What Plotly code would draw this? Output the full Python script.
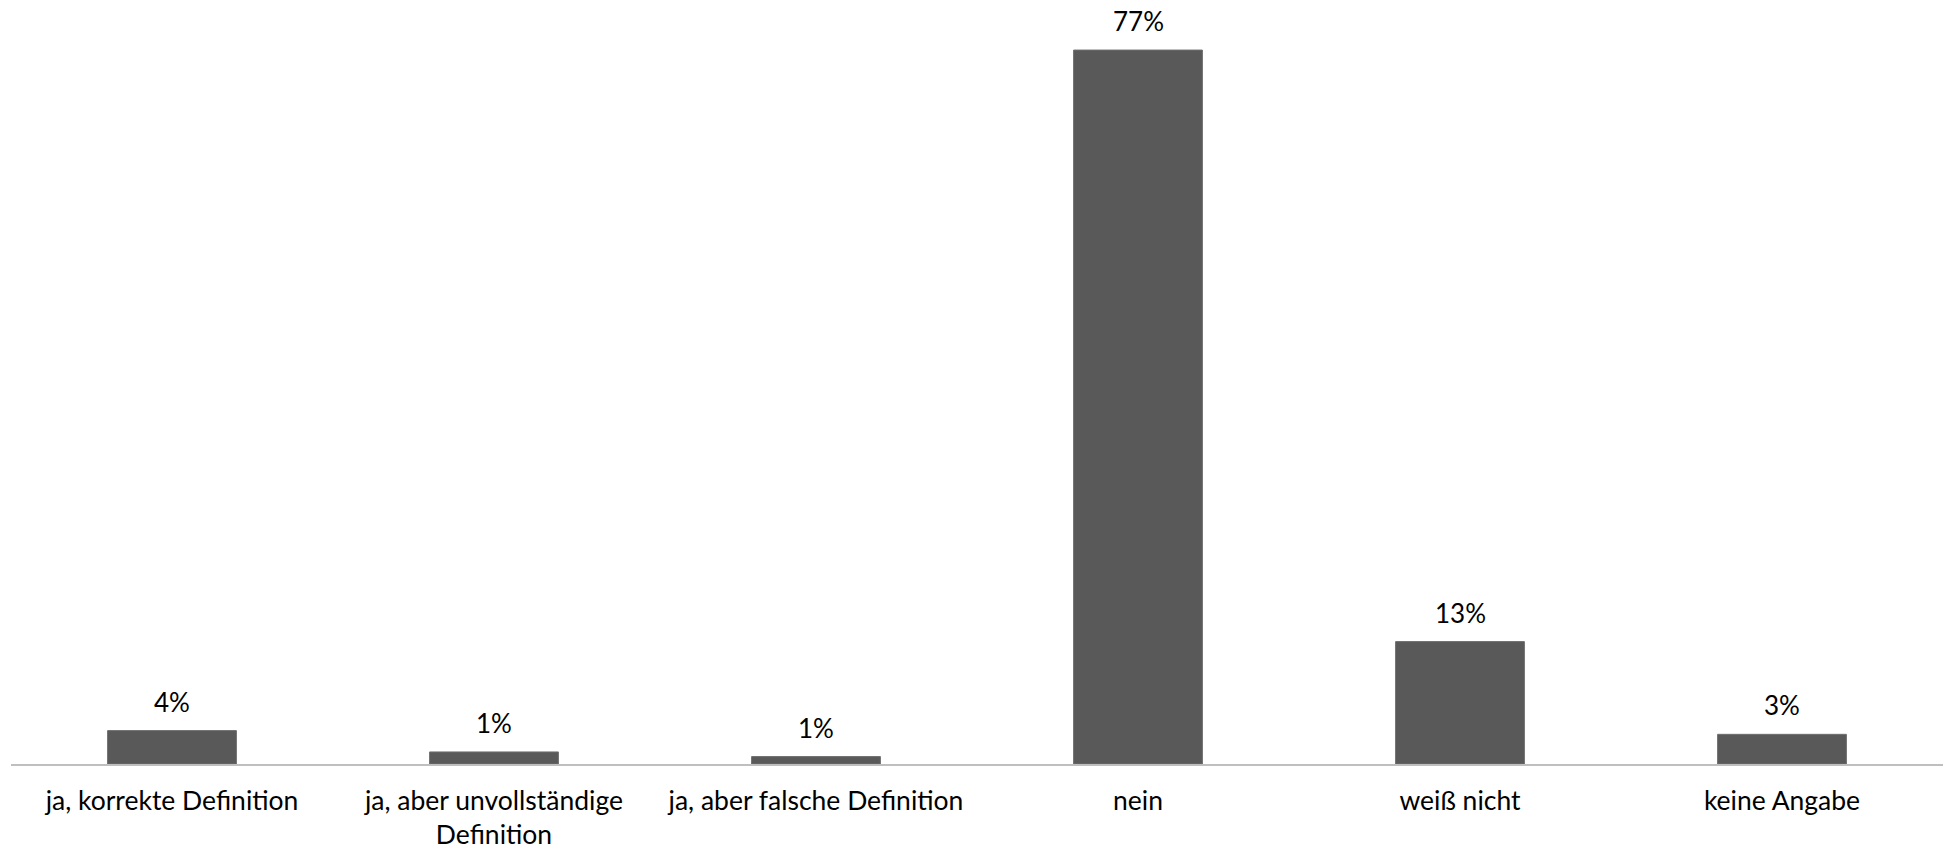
import plotly.graph_objects as go

categories = [
    "ja, korrekte Definition",
    "ja, aber unvollständige<br>Definition",
    "ja, aber falsche Definition",
    "nein",
    "weiß nicht",
    "keine Angabe",
]
values = [3.6, 1.3, 0.8, 77.0, 13.2, 3.2]
labels = ["4%", "1%", "1%", "77%", "13%", "3%"]

FONT = "Lato, Carlito, Calibri, sans-serif"

fig = go.Figure()
fig.add_trace(go.Bar(
    x=categories,
    y=values,
    marker=dict(color="#595959", line=dict(color="#6e6e6e", width=1)),
    hoverinfo="skip",
))

for c, v, t in zip(categories, values, labels):
    fig.add_annotation(
        x=c, y=v, text=t, showarrow=False,
        yanchor="bottom", yshift=12, borderpad=0,
        font=dict(family=FONT, size=26, color="#000000"),
    )

fig.update_layout(
    width=1949,
    height=849,
    margin=dict(l=11, r=6, t=0, b=85),
    paper_bgcolor="white",
    plot_bgcolor="white",
    bargap=0.6,
    showlegend=False,
    font=dict(family=FONT, size=26, color="#000000"),
    xaxis=dict(
        showline=True,
        linecolor="#bfbfbf",
        linewidth=1.5,
        ticks="",
        showgrid=False,
        automargin=False,
        tickfont=dict(family=FONT, size=26.5, color="#000000"),
        ticklabelstandoff=12,
    ),
    yaxis=dict(
        range=[0, 82.4],
        visible=False,
        showgrid=False,
        zeroline=False,
        automargin=False,
    ),
)

fig.write_html(
    "out.html",
    config={"displayModeBar": False},
    post_script="document.body.style.margin='0';document.body.style.overflow='hidden';",
)
